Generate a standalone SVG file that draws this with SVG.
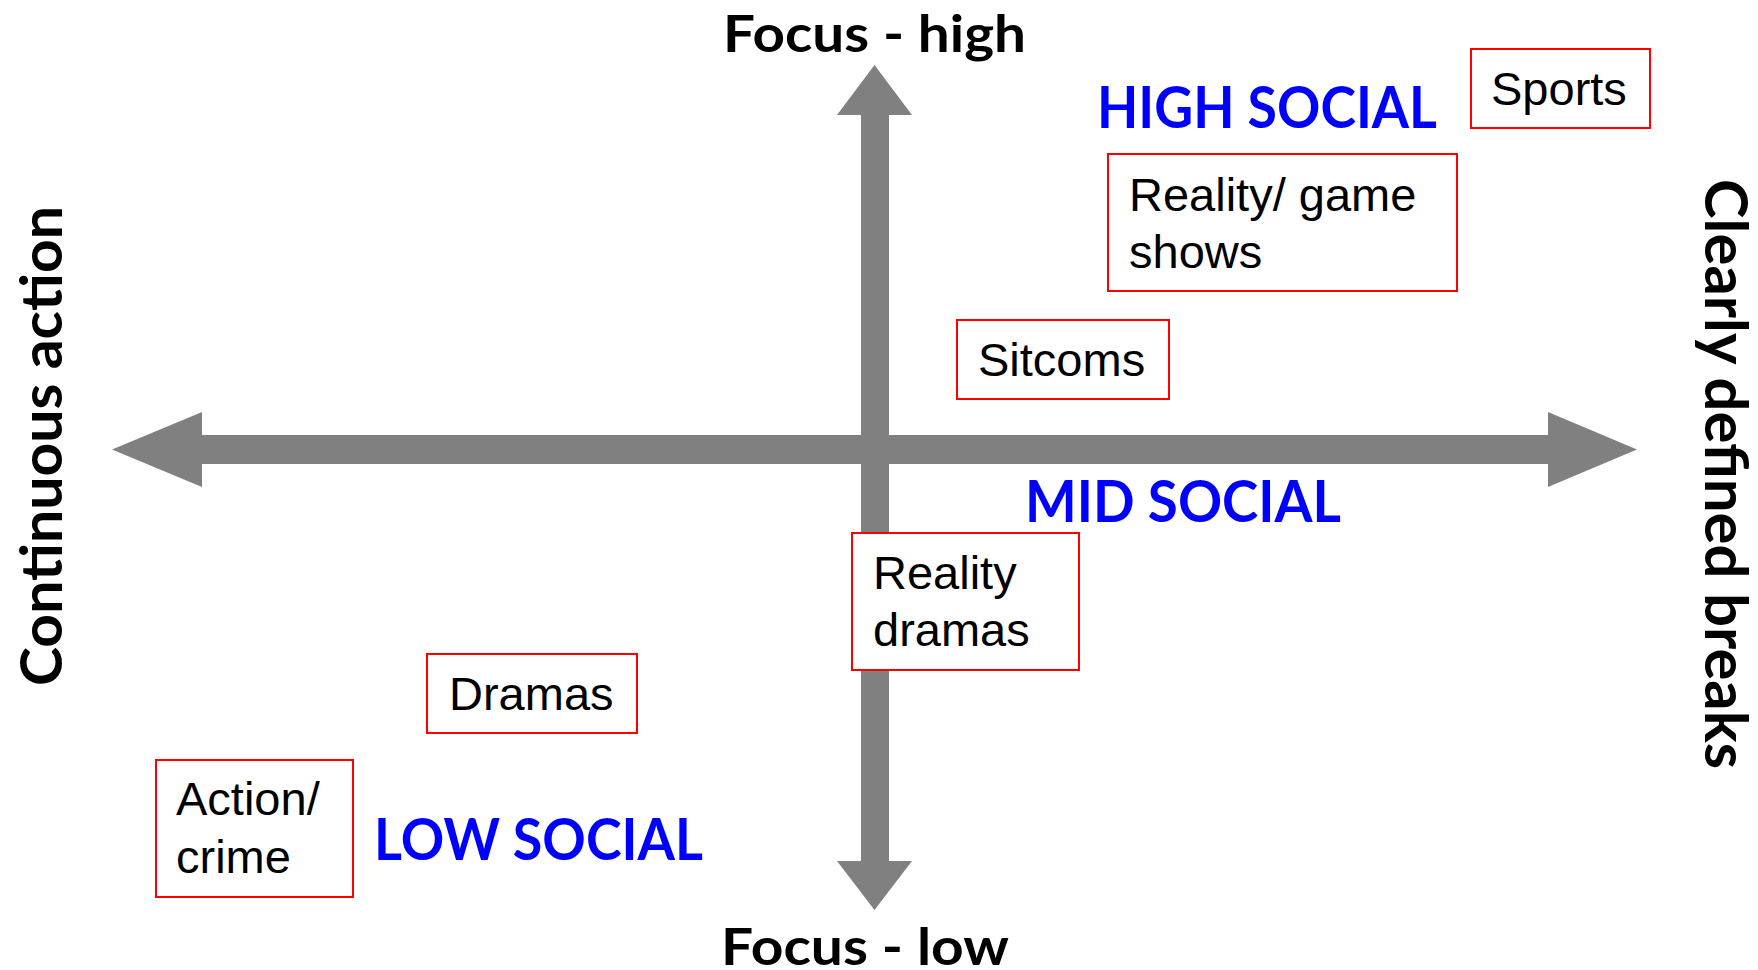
<svg xmlns="http://www.w3.org/2000/svg" width="1758" height="970" viewBox="0 0 1758 970">
  <style>
    .axis { fill: #808080; }
    .axis-label { font-family: Lato, "Open Sans", "DejaVu Sans", sans-serif; font-weight: bold; fill: #000000; }
    .zone { font-family: Lato, "Open Sans", "DejaVu Sans", sans-serif; font-weight: bold; fill: #0000FF; font-size: 57px; }
    .box { fill: #FFFFFF; stroke: #FF0000; stroke-width: 2; }
    .item { font-family: "Liberation Sans", Arial, sans-serif; font-size: 47px; fill: #000000; }
  </style>

  <rect width="1758" height="970" fill="#FFFFFF"/>

  <!-- two double-headed axes -->
  <g id="axes">
    <polygon class="axis" points="112,449.5 202,412 202,435 1548,435 1548,412 1637,449.5 1548,487 1548,464 202,464 202,487"/>
    <polygon class="axis" points="874.5,65 912,115 889,115 889,861 912,861 874.5,910 837,861 861,861 861,115 837,115"/>
  </g>

  <!-- axis end labels -->
  <g id="label-focus-high">
    <text class="axis-label" x="723" y="52" font-size="52" textLength="303" lengthAdjust="spacingAndGlyphs">Focus - high</text>
  </g>
  <g id="label-focus-low">
    <text class="axis-label" x="721" y="965" font-size="52" textLength="288" lengthAdjust="spacingAndGlyphs">Focus - low</text>
  </g>
  <g id="label-continuous">
    <text class="axis-label" transform="translate(62,686) rotate(-90)" font-size="58" textLength="480" lengthAdjust="spacingAndGlyphs">Continuous action</text>
  </g>
  <g id="label-breaks">
    <text class="axis-label" transform="translate(1705,179) rotate(90)" font-size="59" textLength="590" lengthAdjust="spacingAndGlyphs">Clearly defined breaks</text>
  </g>

  <!-- social zones -->
  <g id="zone-high">
    <text class="zone" x="1097" y="128" textLength="340" lengthAdjust="spacingAndGlyphs">HIGH SOCIAL</text>
  </g>
  <g id="zone-mid">
    <text class="zone" x="1025" y="522" font-size="56" textLength="316" lengthAdjust="spacingAndGlyphs">MID SOCIAL</text>
  </g>
  <g id="zone-low">
    <text class="zone" x="374" y="860" textLength="329" lengthAdjust="spacingAndGlyphs">LOW SOCIAL</text>
  </g>

  <!-- programme genres -->
  <g id="node-sports">
    <rect class="box" x="1471" y="49" width="179" height="79"/>
    <text class="item" x="1491" y="105">Sports</text>
  </g>
  <g id="node-reality-game">
    <rect class="box" x="1108" y="154" width="349" height="137"/>
    <text class="item" x="1129" y="211">Reality/ game</text>
    <text class="item" x="1129" y="268">shows</text>
  </g>
  <g id="node-sitcoms">
    <rect class="box" x="957" y="320" width="212" height="79"/>
    <text class="item" x="978" y="376">Sitcoms</text>
  </g>
  <g id="node-reality-dramas">
    <rect class="box" x="852" y="533" width="227" height="137"/>
    <text class="item" x="873" y="589">Reality</text>
    <text class="item" x="873" y="646">dramas</text>
  </g>
  <g id="node-dramas">
    <rect class="box" x="427" y="654" width="210" height="79"/>
    <text class="item" x="449" y="710">Dramas</text>
  </g>
  <g id="node-action">
    <rect class="box" x="156" y="760" width="197" height="137"/>
    <text class="item" x="176" y="815">Action/</text>
    <text class="item" x="176" y="873">crime</text>
  </g>
</svg>
